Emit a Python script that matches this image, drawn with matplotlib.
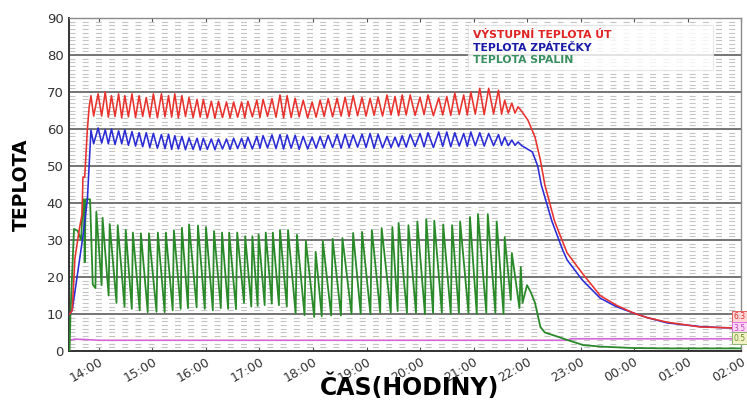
import matplotlib
matplotlib.use("Agg")
import matplotlib.pyplot as plt
from matplotlib.lines import Line2D
from matplotlib.ticker import FixedLocator, MultipleLocator, FuncFormatter

# times are read off the picture as HH:MM (after midnight = next day)
# burner cycles seen on the flue gas trace (green)
green_times = ["13:57", "14:04", "14:12", "14:21", "14:30", "14:38", "14:47", "14:56", "15:06", "15:15",
               "15:24", "15:33", "15:41", "15:51", "16:00", "16:09", "16:18", "16:26", "16:35", "16:44",
               "16:52", "16:59", "17:07", "17:15", "17:23", "17:32", "17:42", "17:52", "18:03", "18:11",
               "18:22", "18:33", "18:45", "18:55", "19:06", "19:17", "19:29", "19:36", "19:47", "19:57",
               "20:07", "20:16", "20:26", "20:36", "20:45", "20:56", "21:05", "21:16", "21:26", "21:35",
               "21:43", "21:53"]
# cycles seen on the water traces (red + blue)
water_times = ["13:59", "14:07", "14:14", "14:22", "14:29", "14:37", "14:45", "14:53",
               "15:01", "15:10", "15:18", "15:25", "15:33", "15:41", "15:50", "15:57", "16:06", "16:14",
               "16:23", "16:31",
               "16:40", "16:47", "16:57", "17:04", "17:14", "17:23", "17:31", "17:40", "17:49", "17:59",
               "18:08", "18:17", "18:27", "18:36", "18:45", "18:55", "19:04", "19:13", "19:23", "19:32",
               "19:40", "19:49", "20:00", "20:09", "20:21", "20:30", "20:39", "20:49", "20:57", "21:07",
               "21:17", "21:28", "21:35", "21:43", "21:50"]

# VYSTUPNI TEPLOTA UT (red)
red_start_t = ["13:27", "13:30", "13:33", "13:38", "13:41", "13:42", "13:44", "13:47", "13:49", "13:51", "13:54"]
red_start_v = [10, 11, 25, 33, 37, 47, 47, 60, 66, 69, 63.5]
red_peaks = [69.5, 70, 69, 69.5, 69, 69.5, 69, 68.5,
             69.5, 69.5, 69, 69.5, 69, 68.5, 68, 68, 67.5, 67.5, 67.3, 67.3,
             67.3, 67.5, 67.8, 68, 68.2, 69.2, 69, 68.3, 67.8, 67.3,
             67.8, 68.2, 68.3, 68.6, 69, 68.5, 68.3, 68.6, 69.2, 68.8,
             69.2, 69.2, 68.6, 69.2, 68.4, 68.8, 69.7, 69.2, 70, 71,
             71, 70.5, 67.8, 67, 66]
red_troughs = [63.5, 63.2, 63.4, 63.0, 63.3, 63.1, 63.4, 63.2, 63.0, 63.3,
               63.2, 63.0, 63.4, 63.1, 63.2, 63.0, 62.9, 63.1, 63.0, 63.2,
               63.0, 63.3, 63.1, 63.4, 63.2, 63.0, 63.1, 63.3, 63.0, 63.2,
               63.4, 63.3, 63.5, 63.4, 63.6, 63.5, 63.7, 63.5, 63.8, 63.6,
               63.8, 63.7, 63.9, 63.6, 63.8, 63.7, 63.9, 63.8, 64.0, 63.9,
               64.1, 64.0, 64.3, 64.3]
red_tail_t = ["21:54", "22:01", "22:09", "22:15", "22:20", "22:31", "22:40", "22:45", "23:02", "23:22",
              "23:40", "23:59", "00:15", "00:37", "01:14", "01:40", "02:00"]
red_tail_v = [64.8, 62.4, 57.8, 51.6, 44.9, 35, 29.5, 26.5, 21, 15, 12.4, 10.3, 9, 7.8, 6.5, 6.3, 6.2]

# TEPLOTA ZPATECKY (blue)
blue_start_t = ["13:27", "13:30", "13:36", "13:42", "13:47", "13:50", "13:51", "13:54"]
blue_start_v = [10, 11, 21, 31, 41, 55, 59.7, 56]
blue_peaks = [60.3, 59.8, 60, 59.5, 59.8, 59.3, 59, 59,
              58.8, 58.5, 58.6, 58.2, 58, 57.6, 57.5, 57.5, 57.3, 57.3, 57.3, 57.5,
              57.5, 57.8, 58, 58.2, 58.4, 58.5, 58.4, 58.3, 58, 57.8,
              58, 58.3, 58.5, 58.6, 58.4, 58.6, 58.8, 58.6, 58, 57.8,
              58.2, 58.6, 58.8, 59, 59.2, 59.2, 59, 58.8, 59.2, 59,
              58.8, 58.5, 57.8, 57, 56.5]
blue_troughs = [56.2, 56.0, 55.8, 56.0, 55.6, 55.4, 55.2, 55.0, 54.8, 54.7,
                54.5, 54.6, 54.4, 54.5, 54.3, 54.5, 54.4, 54.6, 54.5, 54.7,
                54.8, 54.6, 54.8, 54.9, 54.7, 54.6, 54.8, 54.5, 54.6, 54.8,
                54.9, 55.0, 54.8, 55.0, 55.1, 55.0, 54.8, 54.9, 55.0, 55.2,
                55.1, 55.3, 55.2, 55.0, 55.3, 55.2, 55.4, 55.3, 55.5, 55.4,
                55.5, 55.6, 55.5, 55.6]
blue_tail_t = ["21:54", "22:06", "22:12", "22:16", "22:28", "22:33", "22:40", "22:45", "23:02", "23:22",
               "23:40", "23:59", "00:15", "00:37", "01:14", "01:40", "02:00"]
blue_tail_v = [55.5, 53.8, 50, 44.9, 35, 31.8, 27.3, 24.6, 19.2, 14.3, 12, 10.3, 9, 7.6, 6.6, 6.3, 6.2]

# TEPLOTA SPALIN (green)
green_start_t = ["13:27", "13:28", "13:32", "13:36", "13:40", "13:42", "13:43", "13:44", "13:45", "13:50",
                 "13:53", "13:56"]
green_start_v = [0, 10, 33, 32.5, 30, 41, 41, 24, 41, 41, 18, 17]
green_peaks = [37.6, 36, 34.3, 34, 32.7, 32, 31.8, 31.8, 32, 32,
               32.6, 33.3, 34.2, 33.9, 33.5, 32.4, 32, 32, 32, 31,
               31, 31.5, 32, 32, 32.7, 32.7, 31.4, 29.7, 26.8, 29.7,
               30.3, 30.5, 31.9, 32.2, 32.7, 33.2, 33.5, 34.6, 34, 35,
               35.6, 35.2, 34.2, 34, 35, 36.2, 37, 37, 35, 30.8,
               26.5, 22.7]
green_troughs = [17.8, 15, 13, 12, 11.4, 11, 10.5, 10.6, 10.5, 11,
                 11.4, 11.6, 11.8, 11.4, 11, 11.6, 11.4, 11.3, 13, 12,
                 12.2, 12.4, 12.8, 12.4, 12, 10.2, 9.7, 9.2, 9.4, 9.6,
                 9.6, 10, 10, 10, 10.4, 10.4, 10.8, 10.3, 10.3, 10,
                 10.3, 10.3, 10, 10.3, 10.3, 10, 10.3, 10.3, 10, 13.8,
                 11.6]
green_tail_t = ["21:55", "22:00", "22:04", "22:09", "22:15", "22:20", "22:29", "22:45", "23:03", "23:22",
                "23:59", "00:40", "02:00"]
green_tail_v = [13, 17.8, 16, 13, 6.5, 5, 4.3, 3, 1.6, 1.2, 0.8, 0.7, 0.7]

# fourth (unlabelled) magenta trace
magenta_t = ["13:27", "13:33", "13:45", "14:00", "22:45", "22:50", "02:00"]
magenta_v = [2.9, 3.2, 3.1, 2.9, 2.9, 3.3, 3.3]

# value tags at right edge
tag_text = ["6.3", "3.5", "0.5"]
tag_y = [9.2, 6.2, 3.5]


def hrs(s):
    h, m = map(int, s.split(":"))
    if h < 12:
        h += 24
    return h + m / 60.0


# peaks at cycle times, trough reached after 'down' of the gap
def build(times, start_t, start_v, peaks, troughs, tail_t, tail_v, down):
    t = [hrs(s) for s in start_t]
    v = list(start_v)
    pt = [hrs(s) for s in times]
    for i, p in enumerate(peaks):
        t.append(pt[i])
        v.append(p)
        if i < len(troughs):
            t.append(pt[i] + down * (pt[i + 1] - pt[i]))
            v.append(troughs[i])
    t += [hrs(s) for s in tail_t]
    v += list(tail_v)
    return t, v


plt.rcParams["lines.scale_dashes"] = False

fig = plt.figure(figsize=(7.47, 4.01), dpi=100)
ax = fig.add_axes([0.0924, 0.1247, 0.8996, 0.8304])

gt, gv = build(green_times, green_start_t, green_start_v, green_peaks, green_troughs,
               green_tail_t, green_tail_v, 0.85)
rt, rv = build(water_times, red_start_t, red_start_v, red_peaks, red_troughs,
               red_tail_t, red_tail_v, 0.5)
bt, bv = build(water_times, blue_start_t, blue_start_v, blue_peaks, blue_troughs,
               blue_tail_t, blue_tail_v, 0.5)

ax.plot([hrs(s) for s in magenta_t], magenta_v, color="#d366d8", lw=1.2, zorder=3)
ax.plot(gt, gv, color="#2a8a2a", lw=1.3, zorder=4)
ax.plot(bt, bv, color="#2b2bd6", lw=1.15, zorder=5)
ax.plot(rt, rv, color="#e8322e", lw=1.15, zorder=6)

ax.set_xlim(13.44, 26.0)
ax.set_ylim(0, 90)

ax.yaxis.set_major_locator(MultipleLocator(10))
ax.yaxis.set_minor_locator(MultipleLocator(1))
ax.grid(axis="y", which="major", color="#5c5c5c", lw=1.2)
ax.grid(axis="y", which="minor", color="#c4c4c4", lw=0.8, linestyle=(0, (4.3, 5.2)))
ax.set_axisbelow(True)

ax.xaxis.set_major_locator(FixedLocator(list(range(14, 27))))
ax.xaxis.set_major_formatter(FuncFormatter(lambda x, pos: "%02d:00" % (int(round(x)) % 24)))
ax.tick_params(axis="x", direction="in", length=3, top=True, color="#555555",
               labelsize=9, labelcolor="#333333", pad=3)
ax.tick_params(axis="y", which="both", length=0, labelsize=9.5, labelcolor="#333333", pad=4)
for lab in ax.get_xticklabels():
    lab.set_rotation(30)
    lab.set_ha("right")
    lab.set_rotation_mode("anchor")

for side in ["left", "bottom"]:
    ax.spines[side].set_color("#333333")
    ax.spines[side].set_linewidth(1.4)
for side in ["top", "right"]:
    ax.spines[side].set_color("#8a8a8a")
    ax.spines[side].set_linewidth(1.0)

fig.text(0.028, 0.54, "TEPLOTA", rotation=90, ha="center", va="center",
         fontsize=13.5, fontweight="bold", color="black")
fig.text(0.548, 0.035, "ČAS(HODINY)", ha="center", va="center",
         fontsize=17, fontweight="bold", color="black")

handles = [Line2D([], [], color=c) for c in ["#e02424", "#1a1aa8", "#3a9060"]]
labels = ["VÝSTUPNÍ TEPLOTA ÚT", "TEPLOTA ZPÁTEČKY", "TEPLOTA SPALIN"]
leg = ax.legend(handles, labels, loc="upper left", bbox_to_anchor=(0.594, 0.853, 0.364, 0.126),
                mode="expand", borderaxespad=0, handlelength=0, handletextpad=0,
                labelcolor=["#e02424", "#1a1aa8", "#3a9060"], fancybox=False,
                prop={"size": 7.8, "weight": "bold"}, labelspacing=0.25, borderpad=0.45)
leg.get_frame().set_edgecolor("#e2e2e2")
leg.get_frame().set_linewidth(0.8)

tag_style = [("#e03030", "#ffd6d6", "#e06060"),
             ("#d040d0", "#ffd6f4", "#e070e0"),
             ("#70902a", "#f2f2c8", "#90b070")]
for txt, y, (tc, fc, ec) in zip(tag_text, tag_y, tag_style):
    ax.text(25.86, y, txt, fontsize=5.5, color=tc, va="center", ha="left", clip_on=False, zorder=7,
            bbox=dict(boxstyle="square,pad=0.25", facecolor=fc, edgecolor=ec, lw=0.7))

fig.savefig("out.png", dpi=100, facecolor="white")
